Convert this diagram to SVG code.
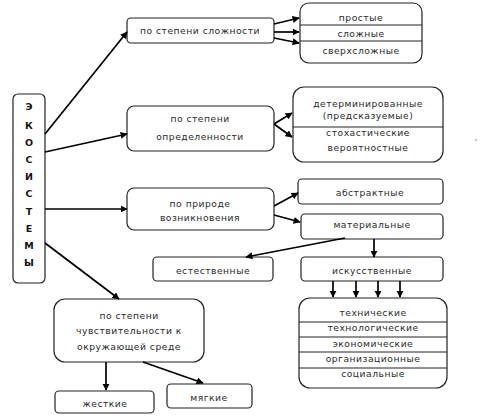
<svg xmlns="http://www.w3.org/2000/svg" width="496" height="419" viewBox="0 0 496 419">
<defs>
<marker id="ah" viewBox="0 0 10 10" refX="9" refY="5" markerWidth="4.2" markerHeight="4.2" orient="auto" markerUnits="strokeWidth">
<path d="M0,0 L10,5 L0,10 z" fill="#000"/>
</marker>
<style>
.box{fill:#fff;stroke:#222;stroke-width:1.2}
.div{stroke:#222;stroke-width:1}
text{font-family:"DejaVu Sans","Liberation Sans",sans-serif;font-size:9.2px;fill:#2a2a2a;text-anchor:middle;letter-spacing:0.5px}
.big text{font-size:9.5px;font-weight:bold;fill:#111;letter-spacing:0}
.conn line{stroke:#000;stroke-width:1.7;marker-end:url(#ah)}
</style>
</defs>
<rect width="496" height="419" fill="#fff"/>
<g id="ecosystems" class="big">
<rect class="box" x="13" y="94" width="32" height="189" rx="5"/>
<text x="29" y="110">Э</text><text x="29" y="129">К</text><text x="29" y="146">О</text><text x="29" y="163">С</text><text x="29" y="180">И</text><text x="29" y="197">С</text><text x="29" y="215">Т</text><text x="29" y="232">Е</text><text x="29" y="249">М</text><text x="29" y="266">Ы</text>
</g>
<g id="complexity">
<rect class="box" x="127" y="18" width="147" height="25" rx="4"/>
<text x="200" y="34">по степени сложности</text>
</g>
<g id="complexity-types">
<rect class="box" x="300" y="3" width="122" height="60" rx="9"/>
<line class="div" x1="300" y1="25" x2="422" y2="25"/>
<line class="div" x1="300" y1="41" x2="422" y2="41"/>
<text x="361" y="21">простые</text>
<text x="361" y="37">сложные</text>
<text x="361" y="54">сверхсложные</text>
</g>
<g id="certainty">
<rect class="box" x="127" y="106" width="147" height="45" rx="7"/>
<text x="200" y="122">по степени</text>
<text x="200" y="140">определенности</text>
</g>
<g id="certainty-types">
<rect class="box" x="293" y="87" width="150" height="75" rx="11"/>
<line class="div" x1="293" y1="127" x2="443" y2="127"/>
<text x="368" y="107">детерминированные</text>
<text x="368" y="119">(предсказуемые)</text>
<text x="368" y="136">стохастические</text>
<text x="368" y="151">вероятностные</text>
</g>
<g id="origin">
<rect class="box" x="127" y="188" width="147" height="42" rx="7"/>
<text x="200" y="207">по природе</text>
<text x="200" y="221">возникновения</text>
</g>
<g id="abstract">
<rect class="box" x="298" y="179" width="145" height="25" rx="4"/>
<text x="370" y="196">абстрактные</text>
</g>
<g id="material">
<rect class="box" x="301" y="214" width="142" height="25" rx="4"/>
<text x="372" y="228">материальные</text>
</g>
<g id="natural">
<rect class="box" x="153" y="257" width="120" height="24" rx="4"/>
<text x="213" y="274">естественные</text>
</g>
<g id="artificial">
<rect class="box" x="301" y="257" width="142" height="24" rx="4"/>
<text x="372" y="274">искусственные</text>
</g>
<g id="artificial-types">
<rect class="box" x="299" y="298" width="148" height="90" rx="11"/>
<line class="div" x1="299" y1="322" x2="447" y2="322"/>
<line class="div" x1="299" y1="337" x2="447" y2="337"/>
<line class="div" x1="299" y1="352" x2="447" y2="352"/>
<line class="div" x1="299" y1="368" x2="447" y2="368"/>
<text x="373" y="316">технические</text>
<text x="373" y="331">технологические</text>
<text x="373" y="347">экономические</text>
<text x="373" y="362">организационные</text>
<text x="373" y="377">социальные</text>
</g>
<g id="sensitivity">
<rect class="box" x="54" y="299" width="150" height="63" rx="11"/>
<text x="129" y="319">по степени</text>
<text x="129" y="334">чувствительности  к</text>
<text x="129" y="350">окружающей среде</text>
</g>
<g id="hard">
<rect class="box" x="55" y="391" width="99" height="22" rx="4"/>
<text x="105" y="407">жесткие</text>
</g>
<g id="soft">
<rect class="box" x="167" y="384" width="85" height="24" rx="4"/>
<text x="209" y="401">мягкие</text>
</g>
<circle cx="476" cy="140" r="0.7" fill="#666"/>
<g class="conn" id="connectors">
<line x1="45" y1="134" x2="127" y2="32"/>
<line x1="45" y1="152" x2="127" y2="134"/>
<line x1="45" y1="209" x2="127" y2="209"/>
<line x1="45" y1="243" x2="119" y2="299"/>
<line x1="274" y1="24" x2="299" y2="18"/>
<line x1="274" y1="32" x2="299" y2="32"/>
<line x1="274" y1="38" x2="299" y2="43"/>
<line x1="274" y1="124" x2="292" y2="113"/>
<line x1="274" y1="124" x2="292" y2="137"/>
<line x1="274" y1="206" x2="298" y2="193"/>
<line x1="274" y1="215" x2="300" y2="222"/>
<line x1="345" y1="238" x2="246" y2="257"/>
<line x1="374" y1="239" x2="374" y2="257"/>
<line x1="333" y1="281" x2="333" y2="297"/>
<line x1="356" y1="281" x2="356" y2="297"/>
<line x1="378" y1="281" x2="378" y2="297"/>
<line x1="400" y1="281" x2="400" y2="297"/>
<line x1="106" y1="362" x2="106" y2="390"/>
<line x1="143" y1="362" x2="203" y2="383"/>
</g>
</svg>
